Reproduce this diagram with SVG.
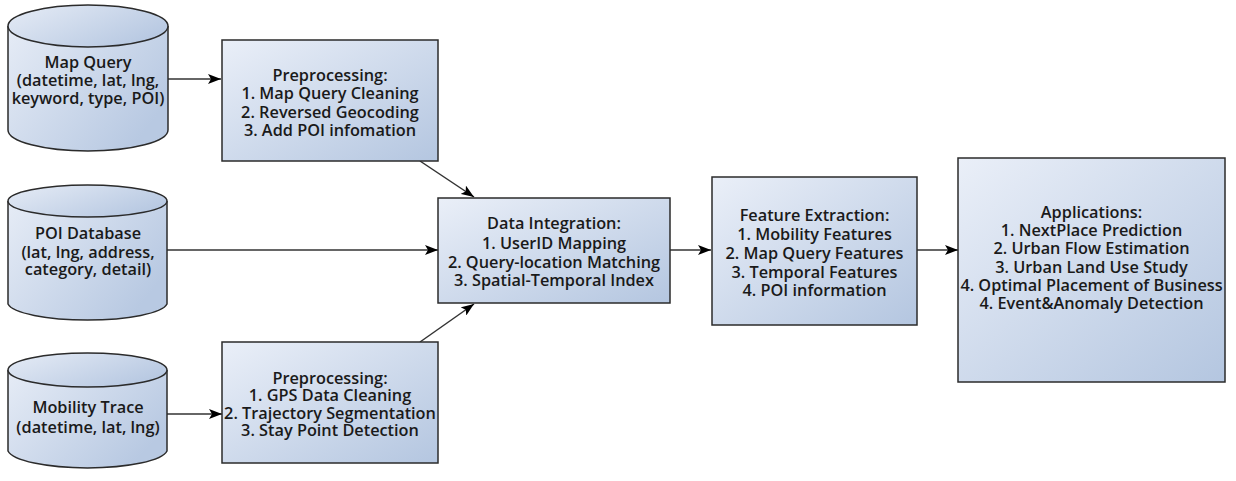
<svg xmlns="http://www.w3.org/2000/svg" width="1236" height="481" viewBox="0 0 1236 481">
<defs>
<linearGradient id="g" x1="0" y1="0" x2="1" y2="1">
<stop offset="0" stop-color="#eaeff8"/>
<stop offset="1" stop-color="#b4c6e0"/>
</linearGradient>
<linearGradient id="gc" x1="0" y1="0" x2="1" y2="0.6">
<stop offset="0" stop-color="#e6ecf6"/>
<stop offset="1" stop-color="#b8c9e2"/>
</linearGradient>
<marker id="ah" markerWidth="14" markerHeight="10" refX="13" refY="5" orient="auto" markerUnits="userSpaceOnUse">
<path d="M0,0 L13,5 L0,10 L3,5 Z" fill="#000"/>
</marker>
</defs>
<style>
.box{fill:url(#g);stroke:#2b2b2b;stroke-width:1.5}
.cyl{fill:url(#gc);stroke:#2b2b2b;stroke-width:1.5}
.top{fill:url(#gc);stroke:#2b2b2b;stroke-width:1.5}
text{font-family:"Open Sans","DejaVu Sans",sans-serif;font-size:16.3px;font-weight:600;fill:#1a1a1a;text-anchor:middle}
.con{stroke:#333;stroke-width:1.5;fill:none;marker-end:url(#ah)}
</style>
<g id="connectors">
<line class="con" x1="168" y1="79" x2="221" y2="79"/>
<line class="con" x1="167" y1="250" x2="438" y2="250"/>
<line class="con" x1="167" y1="414" x2="222" y2="414"/>
<line class="con" x1="420" y1="161" x2="474" y2="197"/>
<line class="con" x1="420" y1="342" x2="474" y2="304"/>
<line class="con" x1="670" y1="250" x2="711" y2="250"/>
<line class="con" x1="917" y1="250" x2="958" y2="250"/>
</g>
<g id="mapquery">
<path class="cyl" d="M8,26 L8,130 A80,21 0 0 0 168,130 L168,26"/>
<ellipse class="top" cx="88" cy="26" rx="80" ry="21"/>
<text x="88" y="68">Map Query</text>
<text x="88" y="86">(datetime, lat, lng,</text>
<text x="88" y="104">keyword, type, POI)</text>
</g>
<g id="poidb">
<path class="cyl" d="M8,201 L8,304 A80,18 0 0 0 167,304 L167,201"/>
<ellipse class="top" cx="87.5" cy="201" rx="79.5" ry="16"/>
<text x="88" y="239">POI Database</text>
<text x="88" y="258">(lat, lng, address,</text>
<text x="88" y="275">category, detail)</text>
</g>
<g id="mobility">
<path class="cyl" d="M8,370 L8,451 A80,19 0 0 0 167,451 L167,370"/>
<ellipse class="top" cx="87.5" cy="370" rx="79.5" ry="17"/>
<text x="88" y="413">Mobility Trace</text>
<text x="88" y="433">(datetime, lat, lng)</text>
</g>
<g id="prep1">
<rect class="box" x="222" y="40" width="216" height="121"/>
<text x="330" y="81">Preprocessing:</text>
<text x="330" y="99">1. Map Query Cleaning</text>
<text x="330" y="118">2. Reversed Geocoding</text>
<text x="330" y="136">3. Add POI infomation</text>
</g>
<g id="prep2">
<rect class="box" x="222" y="342" width="216" height="121"/>
<text x="330" y="384">Preprocessing:</text>
<text x="330" y="401">1. GPS Data Cleaning</text>
<text x="330" y="419">2. Trajectory Segmentation</text>
<text x="330" y="436">3. Stay Point Detection</text>
</g>
<g id="integration">
<rect class="box" x="438" y="198" width="232" height="105"/>
<text x="554" y="229">Data Integration:</text>
<text x="554" y="249">1. UserID Mapping</text>
<text x="554" y="268">2. Query-location Matching</text>
<text x="554" y="286">3. Spatial-Temporal Index</text>
</g>
<g id="features">
<rect class="box" x="712" y="177" width="205" height="148"/>
<text x="814.5" y="221">Feature Extraction:</text>
<text x="814.5" y="240">1. Mobility Features</text>
<text x="814.5" y="259">2. Map Query Features</text>
<text x="814.5" y="278">3. Temporal Features</text>
<text x="814.5" y="296">4. POI information</text>
</g>
<g id="applications">
<rect class="box" x="958" y="158" width="267" height="224"/>
<text x="1091.5" y="218">Applications:</text>
<text x="1091.5" y="236">1. NextPlace Prediction</text>
<text x="1091.5" y="254">2. Urban Flow Estimation</text>
<text x="1091.5" y="273">3. Urban Land Use Study</text>
<text x="1091.5" y="291">4. Optimal Placement of Business</text>
<text x="1091.5" y="309">4. Event&amp;Anomaly Detection</text>
</g>
</svg>
